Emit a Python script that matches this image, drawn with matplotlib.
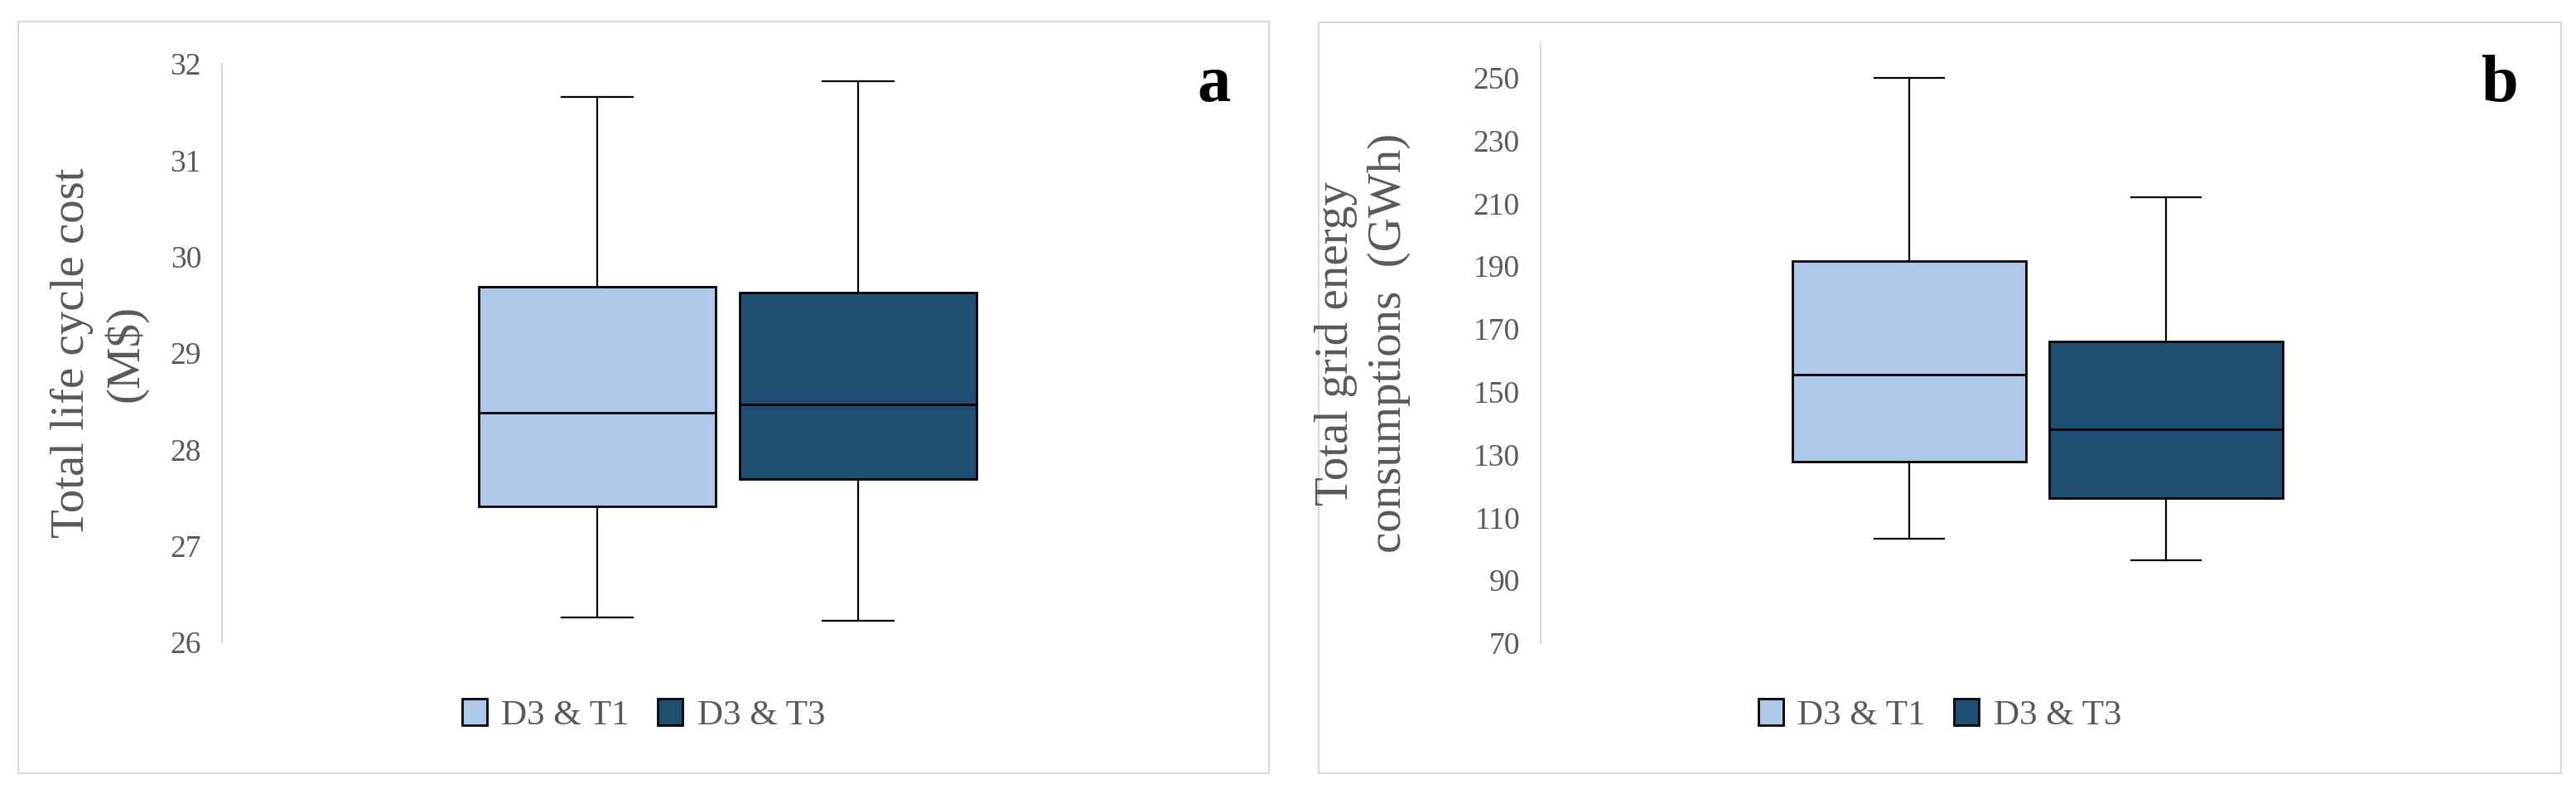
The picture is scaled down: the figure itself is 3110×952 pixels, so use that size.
import matplotlib.pyplot as plt
from matplotlib.patches import Patch, Rectangle

# box statistics: whisker low, Q1, median, Q3, whisker high
series_names = ["D3 & T1", "D3 & T3"]
series_colors = ["#adc8e8", "#1f4e73"]

cost_low = [26.26, 26.22]
cost_q1 = [27.41, 27.69]
cost_median = [28.38, 28.47]
cost_q3 = [29.69, 29.63]
cost_high = [31.66, 31.82]
cost_ticks = [26, 27, 28, 29, 30, 31, 32]

grid_low = [103.2, 96.4]
grid_q1 = [127.8, 116.2]
grid_median = [155.4, 138.0]
grid_q3 = [191.7, 165.9]
grid_high = [250.0, 211.8]
grid_ticks = [70, 90, 110, 130, 150, 170, 190, 210, 230, 250]

W, H = 3110, 952
plt.rcParams["font.family"] = ["Liberation Serif", "DejaVu Serif"]


def build_stats(low, q1, med, q3, high):
    return [
        dict(whislo=low[i], q1=q1[i], med=med[i], q3=q3[i], whishi=high[i], fliers=[])
        for i in range(len(med))
    ]


def draw_panel(fig, rect, stats, ylim, ticks, ylabel, label_x, tag, tag_x, frame):
    ax = fig.add_axes(rect)
    artists = ax.bxp(
        stats,
        positions=[0.371, 0.629],
        widths=0.235,
        capwidths=0.07,
        patch_artist=True,
        showfliers=False,
        boxprops=dict(linewidth=2.0, edgecolor="black"),
        medianprops=dict(color="black", linewidth=2.0),
        whiskerprops=dict(color="black", linewidth=1.6),
        capprops=dict(color="black", linewidth=1.6),
    )
    for box, color in zip(artists["boxes"], series_colors):
        box.set_facecolor(color)

    ax.set_xlim(0, 1)
    ax.set_ylim(*ylim)
    ax.set_yticks(ticks)
    ax.set_xticks([])
    ax.tick_params(axis="y", length=0, pad=18, labelsize=27, labelcolor="#595959")
    for side in ["top", "right", "bottom"]:
        ax.spines[side].set_visible(False)
    ax.spines["left"].set_color("#d9d9d9")
    ax.spines["left"].set_linewidth(1.5)

    ax.set_ylabel(ylabel, fontsize=41, color="#595959", linespacing=1.3, parse_math=False)
    ax.yaxis.set_label_coords(label_x, 0.5)

    x0, y0, x1, y1 = frame
    fig.add_artist(Rectangle((x0 / W, 1 - y1 / H), (x1 - x0) / W, (y1 - y0) / H,
                             transform=fig.transFigure, fill=False,
                             edgecolor="#d9d9d9", linewidth=1.5, zorder=0))
    fig.text(tag_x / W, 1 - 122 / H, tag, fontsize=58, fontweight="bold",
             ha="center", va="baseline")

    handles = [Patch(facecolor=c, edgecolor="black", linewidth=2.0) for c in series_colors]
    fig.legend(handles, series_names, loc="center", ncol=2, frameon=False,
               bbox_to_anchor=((x0 + x1) / 2 / W, 1 - 863 / H),
               fontsize=31, labelcolor="#595959", handlelength=0.7, handleheight=0.77,
               handletextpad=0.4, columnspacing=0.8)
    return ax


fig = plt.figure(figsize=(W / 100, H / 100), dpi=100)

draw_panel(
    fig,
    [268 / W, 1 - 775 / H, (1489 - 268) / W, (775 - 77) / H],
    build_stats(cost_low, cost_q1, cost_median, cost_q3, cost_high),
    (26, 32), cost_ticks,
    "Total life cycle cost\n(M$)", -0.073, "a", 1465, (22, 26, 1532, 933),
)

draw_panel(
    fig,
    [1860 / W, 1 - 776 / H, (3060 - 1860) / W, (776 - 52) / H],
    build_stats(grid_low, grid_q1, grid_median, grid_q3, grid_high),
    (70, 261), grid_ticks,
    "Total grid energy\nconsumptions  (GWh)", -0.131, "b", 3018, (1592, 27, 3092, 933),
)

fig.savefig("out.png", dpi=100)
